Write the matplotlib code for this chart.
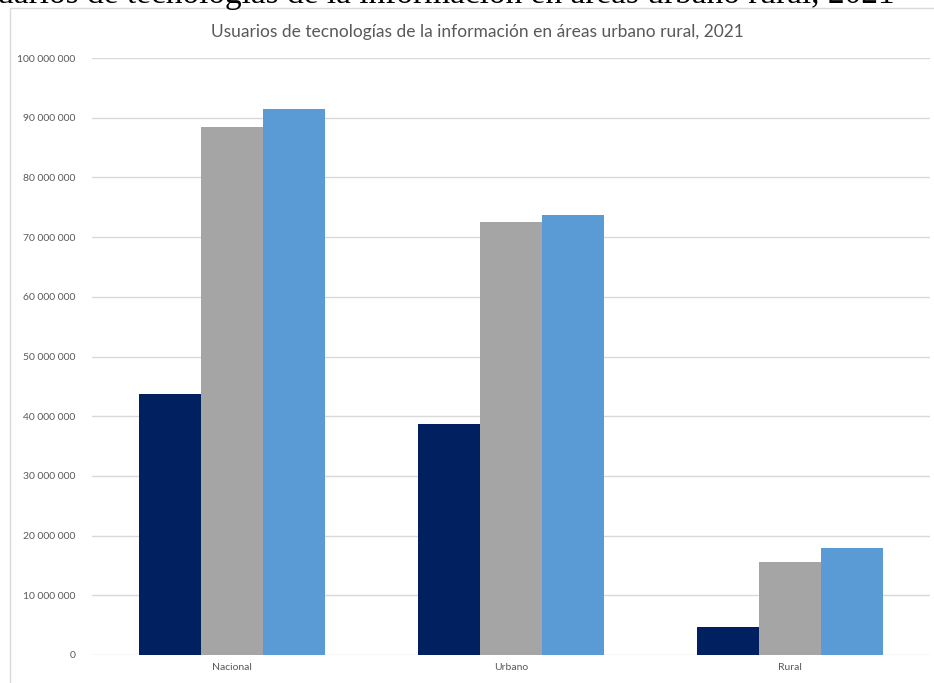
import numpy as np
import matplotlib.pyplot as plt
from matplotlib.patches import Rectangle
from matplotlib.ticker import FuncFormatter

categories = ["Nacional", "Urbano", "Rural"]
serie_1 = [43_800_000, 38_700_000, 4_750_000]
serie_2 = [88_400_000, 72_600_000, 15_600_000]
serie_3 = [91_500_000, 73_700_000, 17_900_000]
colors = ["#002060", "#A5A5A5", "#5B9BD5"]
title = "Usuarios de tecnologías de la información en áreas urbano rural, 2021"
caption = "Usuarios de tecnologías de la información en áreas urbano rural, 2021"

W, H = 934, 683
fig = plt.figure(figsize=(W / 100, H / 100), dpi=100)

# texto del documento cortado arriba
fig.text(-40 / W, 1 - 3 / H, caption, fontsize=24, family="Liberation Serif",
         color="black", ha="left", va="baseline")

# borde del gráfico
fig.patches.append(Rectangle((10 / W, -0.1), 1.2, 1 - 8 / H + 0.1, transform=fig.transFigure,
                             fill=False, edgecolor="#d9d9d9", linewidth=1, zorder=0))

ax = fig.add_axes([92 / W, 28 / H, (930 - 92) / W, (655 - 58) / H])
x = np.arange(len(categories))
width = 0.222
for i, serie in enumerate([serie_1, serie_2, serie_3]):
    ax.bar(x + (i - 1) * width, serie, width, color=colors[i], zorder=3)

ax.set_xlim(-0.5, 2.5)
ax.set_ylim(0, 100_000_000)
ax.set_yticks(np.arange(0, 100_000_001, 10_000_000))
ax.yaxis.set_major_formatter(FuncFormatter(lambda v, p: f"{int(v):,}".replace(",", " ")))
ax.set_xticks(x)
ax.set_xticklabels(categories)
ax.grid(axis="y", color="#d9d9d9", linewidth=1, zorder=0)
for s in ax.spines.values():
    s.set_visible(False)
ax.tick_params(length=0, labelsize=7.5, labelcolor="#595959")
ax.tick_params(axis="y", pad=12)
ax.tick_params(axis="x", pad=6)
for lab in ax.get_xticklabels() + ax.get_yticklabels():
    lab.set_family("Lato")

fig.text(477 / W, 1 - 32 / H, title, ha="center", va="center", fontsize=12.5,
         color="#595959", family="Lato")

fig.savefig("out.png", dpi=100)
